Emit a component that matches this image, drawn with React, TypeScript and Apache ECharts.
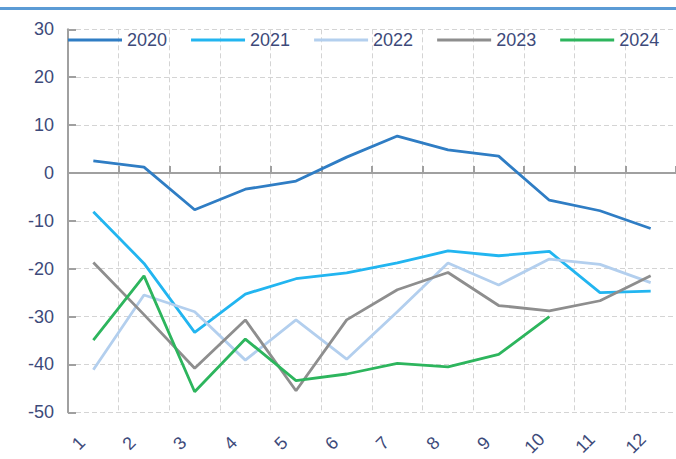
import React, { useEffect, useRef } from 'react';
import * as echarts from 'echarts';

const months = ['1', '2', '3', '4', '5', '6', '7', '8', '9', '10', '11', '12'];
const years = ['2020', '2021', '2022', '2023', '2024'];
const s2020 = [2.5, 1.2, -7.7, -3.4, -1.7, 3.3, 7.7, 4.8, 3.5, -5.7, -7.9, -11.6];
const s2021 = [-8.1, -18.9, -33.3, -25.3, -22.1, -20.9, -18.8, -16.3, -17.3, -16.4, -25.0, -24.7];
const s2022 = [-41.1, -25.5, -29.0, -39.1, -30.7, -38.9, -29.0, -18.8, -23.4, -18.0, -19.1, -22.9];
const s2023 = [-18.7, -29.6, -40.8, -30.7, -45.5, -30.7, -24.4, -20.8, -27.7, -28.8, -26.7, -21.5];
const s2024 = [-34.9, -21.5, -45.7, -34.7, -43.4, -42.0, -39.8, -40.5, -37.9, -30.0, null, null];
const yMin = -50;
const yMax = 30;
const yStep = 10;

const colors = ['#2f7dc4', '#22b5f0', '#b3cfee', '#8e8e8e', '#2db55d'];
const seriesData = [s2020, s2021, s2022, s2023, s2024];

const textColor = '#3d4a7a';
const axisColor = '#a0a0a0';
const gridStyle = { color: '#d4d4d4', type: [5, 3] as any, width: 1 };
const font = 'Liberation Sans, Arial, sans-serif';

export default function App() {
  const ref = useRef<HTMLDivElement>(null);
  useEffect(() => {
    if (!ref.current) return;
    const chart = echarts.init(ref.current, undefined, { renderer: 'svg' });
    chart.setOption({
      animation: false,
      backgroundColor: '#ffffff',
      textStyle: { fontFamily: font },
      graphic: [
        {
          type: 'line',
          shape: { x1: 0, y1: 8.5, x2: 676, y2: 8.5 },
          style: { stroke: '#5b9bd5', lineWidth: 3 },
        },
      ],
      legend: {
        data: years.map((y) => ({ name: y, icon: 'rect' })),
        left: 63,
        top: 26,
        itemWidth: 54,
        itemHeight: 3,
        itemGap: 24,
        textStyle: { color: textColor, fontSize: 18, fontFamily: font },
      },
      grid: { left: 68, top: 29.3, width: 614.4, height: 383, containLabel: false },
      xAxis: [
        {
          type: 'category',
          data: months,
          position: 'bottom',
          axisLine: { show: false, onZero: false },
          axisTick: { show: false },
          splitLine: { show: true, lineStyle: gridStyle },
          axisLabel: {
            rotate: 45,
            margin: 16,
            fontSize: 18,
            color: textColor,
            fontFamily: font,
            align: 'center',
            verticalAlign: 'middle',
            padding: [0, 42, 0, 0],
          },
        },
        {
          type: 'category',
          data: months,
          position: 'bottom',
          axisLine: { show: true, onZero: true, lineStyle: { color: axisColor, width: 2 } },
          axisTick: { show: true, inside: true, length: 7, lineStyle: { color: axisColor, width: 2 } },
          axisLabel: { show: false },
          splitLine: { show: false },
        },
      ],
      yAxis: {
        type: 'value',
        min: yMin,
        max: yMax,
        interval: yStep,
        axisLine: { show: true, onZero: false, lineStyle: { color: axisColor, width: 2 } },
        axisTick: { show: true, inside: true, length: 8, lineStyle: { color: axisColor, width: 2 } },
        axisLabel: { fontSize: 18, color: textColor, margin: 14, fontFamily: font },
        splitLine: { show: true, lineStyle: gridStyle },
      },
      series: years.map((y, i) => ({
        name: y,
        type: 'line',
        data: seriesData[i],
        symbol: 'none',
        color: colors[i],
        lineStyle: { color: colors[i], width: 2.8 },
        connectNulls: false,
      })),
    });
    return () => chart.dispose();
  }, []);
  return (
    <div
      ref={ref}
      style={{ position: 'absolute', left: 0, top: 0, width: 676, height: 459 }}
    />
  );
}
